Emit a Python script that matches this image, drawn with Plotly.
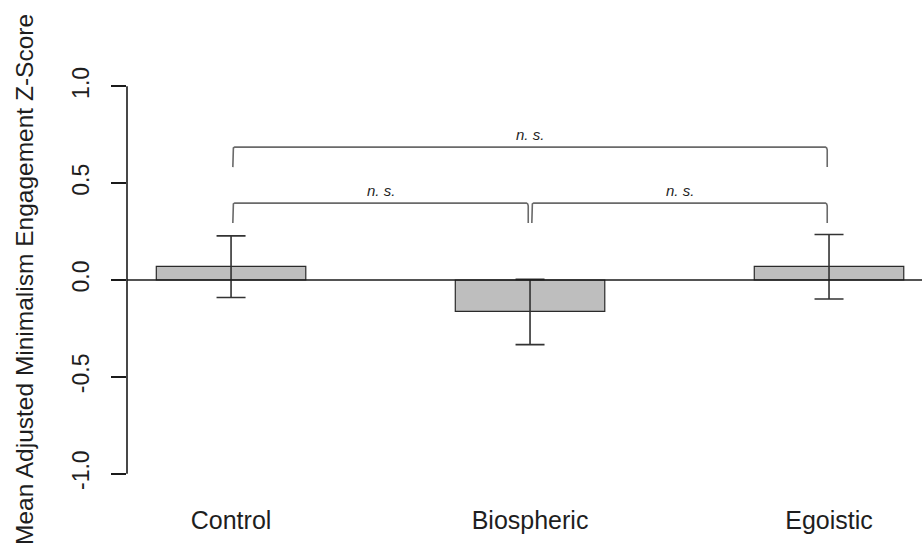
import plotly.graph_objects as go

# ---- data ----
categories = ["Control", "Biospheric", "Egoistic"]
means = [0.07, -0.162, 0.07]
err_plus = [0.158, 0.165, 0.165]
err_minus = [0.160, 0.172, 0.168]
y_ticks = [-1.0, -0.5, 0.0, 0.5, 1.0]
y_tick_labels = ["-1.0", "-0.5", "0.0", "0.5", "1.0"]
y_title = "Mean Adjusted Minimalism Engagement Z-Score"
# brackets: (from index, to index, line y, tick bottom y, label)
brackets = [
    (0, 2, 0.686, 0.583, "n. s."),
    (0, 1, 0.397, 0.294, "n. s."),
    (1, 2, 0.397, 0.294, "n. s."),
]

FONT = "Liberation Sans, Arial, Helvetica, sans-serif"
TXT = "#1e1e1e"

fig = go.Figure()

xpos = list(range(len(categories)))

fig.add_trace(go.Bar(
    x=xpos, y=means, width=0.5,
    marker=dict(color="#bebebe", line=dict(color="#2a2a2a", width=1.2)),
    error_y=dict(type="data", symmetric=False, array=err_plus, arrayminus=err_minus,
                 color="#333333", thickness=1.6, width=14.5),
    hoverinfo="skip", showlegend=False,
))

# brackets
inset = 0.006
for (a, b, yl, yb, lab) in brackets:
    x0 = xpos[a] + inset
    x1 = xpos[b] - inset
    r = 0.006
    ry = 0.014
    xs = [x0, x0, x0 + r * 0.3, x0 + r, x1 - r, x1 - r * 0.3, x1, x1]
    ys = [yb, yl - ry, yl - ry * 0.3, yl, yl, yl - ry * 0.3, yl - ry, yb]
    fig.add_trace(go.Scatter(x=xs, y=ys, mode="lines",
                             line=dict(color="#6a6a6a", width=1.6),
                             hoverinfo="skip", showlegend=False))
    fig.add_annotation(x=(xpos[a] + xpos[b]) / 2, y=yl + 0.066, text="<i>" + lab + "</i>",
                       showarrow=False, xanchor="center", yanchor="middle",
                       font=dict(family=FONT, size=15, color=TXT))

# zero line across the plot
fig.add_shape(type="line", xref="paper", yref="y", x0=0, x1=1, y0=0, y1=0,
              line=dict(color="#1a1a1a", width=1.6), layer="above")
# y axis line limited to tick range
fig.add_shape(type="line", xref="paper", yref="y", x0=0, x1=0, y0=min(y_ticks), y1=max(y_ticks),
              line=dict(color="#1a1a1a", width=1.6))

# y axis title
fig.add_annotation(xref="paper", yref="paper", x=0, y=0.5, xshift=-103,
                   text=y_title, textangle=-90, showarrow=False,
                   xanchor="center", yanchor="middle",
                   font=dict(family=FONT, size=24.5, color=TXT))

fig.update_layout(
    width=922, height=549,
    margin=dict(l=127, r=0, t=67, b=56, pad=0),
    paper_bgcolor="white", plot_bgcolor="white",
    font=dict(family=FONT, color=TXT),
    xaxis=dict(range=[-0.348, 2.311], tickvals=xpos, ticktext=categories,
               showgrid=False, zeroline=False, showline=False, ticks="",
               tickfont=dict(family=FONT, size=25, color=TXT), ticklabelstandoff=10),
    yaxis=dict(range=[-1.1, 1.1], tickvals=y_ticks, ticktext=y_tick_labels,
               showgrid=False, zeroline=False, showline=False,
               ticks="outside", ticklen=15, tickwidth=1.6, tickcolor="#1a1a1a",
               tickangle=-90, tickfont=dict(family=FONT, size=23, color=TXT),
               ticklabelstandoff=13),
)

fig.write_html("out.html")
